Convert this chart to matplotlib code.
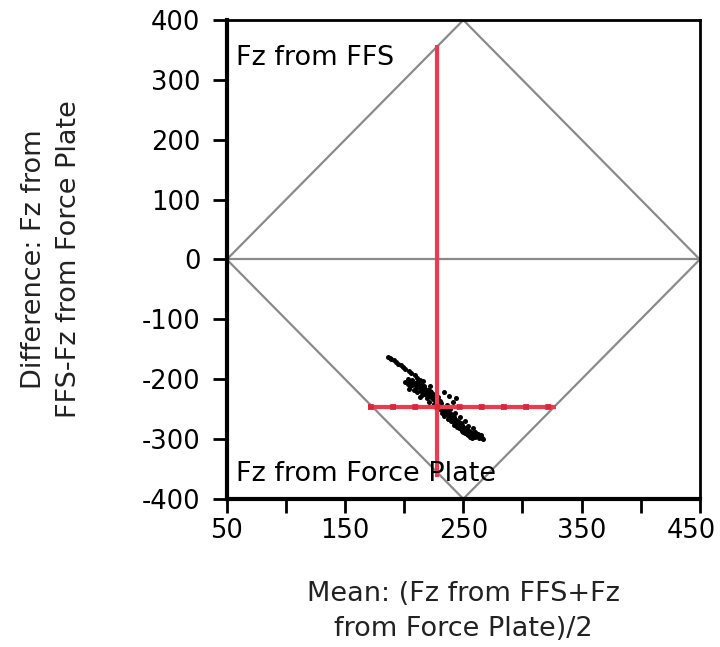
import matplotlib.pyplot as plt
import matplotlib.transforms as mtransforms
import numpy as np

plt.rcParams['font.family'] = ['DejaVu Sans']
plt.rcParams['axes.unicode_minus'] = False

# per-sample mean and difference (N)
mean_fz = [186, 188, 189, 191, 193, 195, 197, 199, 201, 204, 206, 209,
           201, 203, 205, 204, 207, 208, 210, 211, 212, 214, 215, 213, 216,
           218, 219, 220, 222, 221, 223, 224, 226, 225, 227, 228, 229,
           230, 231, 232, 233, 234, 235, 236, 237, 238, 239, 240, 241, 242,
           243, 244, 245, 246, 247, 248, 249, 250, 251, 252, 253, 254, 255,
           256, 257, 258, 259, 260, 262, 264, 266,
           222, 234, 238, 244, 241,
           203, 205, 206, 207, 209, 210, 211, 213, 214, 216, 217, 218, 219,
           220, 222, 223, 224, 225, 226, 227, 228, 229, 230, 231, 232, 233,
           234, 235, 236, 237, 238, 239, 240, 241, 242, 243, 244, 245, 246,
           247, 248, 249, 250, 251, 252, 253, 254, 255, 256, 257, 258, 260,
           261, 263, 265, 267, 211, 213, 216]
diff_fz = [-163, -165, -167, -168, -171, -174, -176, -179, -183, -186, -190, -193,
           -204, -208, -212, -216, -210, -218, -214, -222, -208, -220, -226, -230, -214,
           -224, -232, -218, -228, -238, -222, -234, -226, -242, -236, -246, -230,
           -250, -240, -256, -246, -262, -252, -244, -266, -258, -250, -270, -262, -276,
           -256, -268, -280, -272, -264, -284, -276, -288, -270, -282, -292, -278, -286,
           -296, -290, -282, -294, -288, -292, -296, -298,
           -212, -221, -228, -231, -238,
           -200, -204, -207, -202, -206, -210, -204, -214, -209, -218, -212, -216, -222,
           -226, -220, -230, -224, -230, -234, -240, -234, -242, -236, -246, -250, -254,
           -248, -258, -254, -250, -262, -266, -258, -270, -264, -272, -276, -270, -282,
           -278, -274, -286, -280, -290, -286, -284, -294, -290, -288, -298, -294, -296,
           -292, -298, -294, -300, -198, -201, -203]

# summary cross: mean of x / mean of y with extents
cross_x = 228
cross_y = -246
cross_x_span = [169, 328]
cross_y_span = [-363, 358]

x_ticks = [50, 100, 150, 200, 250, 300, 350, 400, 450]
x_labels = ['50', '', '150', '', '250', '', '350', '', '450']
y_ticks = [-400, -300, -200, -100, 0, 100, 200, 300, 400]

red = '#ee3a4f'
grey = '#8a8a8a'

fig = plt.figure(figsize=(7.2, 6.47), dpi=100)
ax = fig.add_axes([0.315, 0.229, 0.657, 0.740])

# diamond limits of agreement + zero line
ax.plot([50, 250, 450, 250, 50], [0, 400, 0, -400, 0], color=grey, lw=1.6, zorder=1)
ax.plot([50, 450], [0, 0], color=grey, lw=1.6, zorder=1)

ax.scatter(mean_fz, diff_fz, s=13, color='black', lw=0, zorder=3)

ax.plot([cross_x, cross_x], cross_y_span, color=red, lw=3, zorder=4, solid_capstyle='butt')
ax.plot(cross_x_span, [cross_y, cross_y], color=red, lw=3, zorder=4, solid_capstyle='butt')
ax.plot(cross_x_span, [cross_y, cross_y], color='#d8283d', lw=4.2, zorder=4,
        linestyle=(0, (1.0, 2.8)))

ax.text(58, 337, 'Fz from FFS', fontsize=19.5, va='center', ha='left', zorder=5)
ax.text(58, -358, 'Fz from Force Plate', fontsize=19.5, va='center', ha='left', zorder=5)

ax.set_xlim(50, 450)
ax.set_ylim(-400, 400)
ax.set_xticks(x_ticks)
ax.set_xticklabels(x_labels)
ax.set_yticks(y_ticks)
ax.tick_params(axis='both', direction='out', length=10, width=2, labelsize=18.5)
ax.tick_params(axis='y', pad=9)
ax.tick_params(axis='x', pad=4)

# nudge the last x label so it stays inside the figure
last = ax.get_xticklabels()[-1]
last.set_transform(last.get_transform() +
                   mtransforms.ScaledTranslation(-6 / 72, 0, fig.dpi_scale_trans))

ax.spines['left'].set_linewidth(3)
ax.spines['bottom'].set_linewidth(3)
ax.spines['top'].set_linewidth(2)
ax.spines['right'].set_linewidth(2)

ax.set_xlabel('Mean: (Fz from FFS+Fz\nfrom Force Plate)/2', fontsize=19.5, color='#222222',
              linespacing=1.45, va='center')
ax.set_ylabel('Difference: Fz from\nFFS-Fz from Force Plate', fontsize=19.5, color='#222222',
              linespacing=1.45, va='center')
ax.xaxis.set_label_coords(0.5, -0.236)
ax.yaxis.set_label_coords(-0.37, 0.5)

fig.savefig('out.png', dpi=100)
